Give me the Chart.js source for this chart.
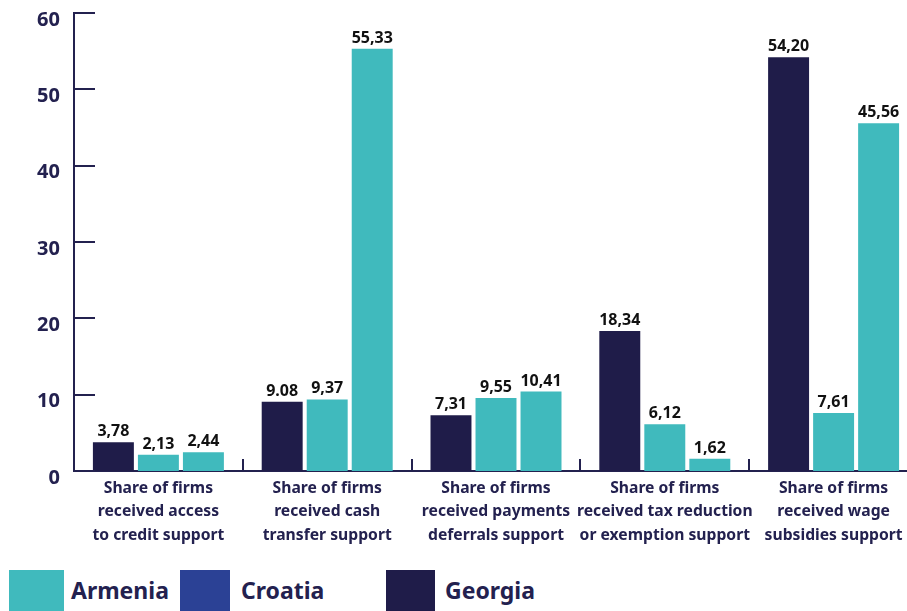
<!DOCTYPE html>
<html lang="en">
<head>
<meta charset="utf-8">
<title>Support received by firms</title>
<script src="https://cdn.jsdelivr.net/npm/chart.js@4.4.1/dist/chart.umd.min.js"></script>
<style>
    html, body { margin: 0; padding: 0; background: #fff; }
    body { width: 907px; height: 611px; overflow: hidden; position: relative; font-family: "Noto Sans", sans-serif; }
    /* O canvas é um pouco mais largo que a janela: a última categoria fica cortada na borda */
    .grafico { position: absolute; left: 0; top: 0; width: 918px; height: 560px; }
    .legenda { position: absolute; left: 0; top: 570px; width: 907px; height: 60px; }
    .legenda-item { position: absolute; top: 0; height: 45px; }
    .legenda-caixa { position: absolute; left: 0; top: 0; height: 45px; }
    .legenda-texto { position: absolute; top: 4px; font-weight: 700; font-size: 23px; color: #23214f; white-space: nowrap; }
</style>
</head>
<body>
<div class="grafico"><canvas id="grafico-apoio-empresas"></canvas></div>
<div class="legenda" id="legenda-paises"></div>

<script>
// Categorias do eixo X (uma linha por item do array)
const categorias = [
    ["Share of firms", "received access", "to credit support"],
    ["Share of firms", "received cash", "transfer support"],
    ["Share of firms", "received payments", "deferrals support"],
    ["Share of firms", "received tax reduction", "or exemption support"],
    ["Share of firms", "received wage", "subsidies support"]
];

// Valores por país, como aparecem nos rótulos das barras
const rotulosGeorgia = ["3,78", "9.08", "7,31", "18,34", "54,20"];
const rotulosArmenia = ["2,13", "9,37", "9,55", "6,12", "7,61"];
const rotulosCroatia = ["2,44", "55,33", "10,41", "1,62", "45,56"];

// Eixo Y
const ticksY = [0, 10, 20, 30, 40, 50, 60];

const COR_NAVY = "#1f1c49";
const COR_TEAL = "#40babd";
const COR_AZUL = "#2b4195";
const COR_TEXTO = "#23214f";

const paraNumero = (s) => parseFloat(s.replace(",", "."));

// Legenda em HTML (ordem e cores próprias, independente da ordem das séries)
const legendaItens = [
    { nome: "Armenia", cor: COR_TEAL, x: 9, caixa: 55, texto: 62 },
    { nome: "Croatia", cor: COR_AZUL, x: 180, caixa: 50, texto: 61 },
    { nome: "Georgia", cor: COR_NAVY, x: 386, caixa: 49, texto: 59 }
];

function montarLegenda() {
    const alvo = document.getElementById("legenda-paises");
    legendaItens.forEach((item) => {
        const el = document.createElement("div");
        el.className = "legenda-item";
        el.style.left = item.x + "px";
        el.innerHTML =
            '<span class="legenda-caixa" style="width:' + item.caixa + "px;background:" + item.cor + '"></span>' +
            '<span class="legenda-texto" style="left:' + item.texto + 'px">' + item.nome + "</span>";
        alvo.appendChild(el);
    });
}

// Marcas curtas para dentro da área do gráfico + rótulos de valor sobre as barras
const marcasERotulos = {
    id: "marcasERotulos",
    afterDraw(chart) {
        const { ctx, chartArea, scales } = chart;
        const x = scales.x;
        const y = scales.y;
        ctx.save();
        ctx.strokeStyle = COR_TEXTO;
        ctx.lineWidth = 2;
        ctx.beginPath();
        y.ticks.forEach((t) => {
            const py = Math.round(y.getPixelForValue(t.value));
            ctx.moveTo(chartArea.left, py);
            ctx.lineTo(chartArea.left + 21, py);
        });
        for (let i = 1; i < categorias.length; i++) {
            const px = Math.round((x.getPixelForValue(i - 1) + x.getPixelForValue(i)) / 2);
            ctx.moveTo(px, chartArea.bottom - 12);
            ctx.lineTo(px, chartArea.bottom);
        }
        ctx.stroke();

        ctx.fillStyle = "#111111";
        ctx.font = "700 16px 'Noto Sans'";
        ctx.textAlign = "center";
        ctx.textBaseline = "alphabetic";
        chart.data.datasets.forEach((ds, di) => {
            chart.getDatasetMeta(di).data.forEach((bar, i) => {
                ctx.fillText(ds.rotulos[i], bar.x, bar.y - 6);
            });
        });
        ctx.restore();
    }
};

function initGraficoApoio() {
    const canvas = document.getElementById("grafico-apoio-empresas");
    if (typeof Chart === "undefined") {
        console.error("Chart.js não foi carregado.");
        return;
    }

    new Chart(canvas.getContext("2d"), {
        type: "bar",
        data: {
            labels: categorias,
            datasets: [
                { label: "Georgia", data: rotulosGeorgia.map(paraNumero), rotulos: rotulosGeorgia, backgroundColor: COR_NAVY },
                { label: "Armenia", data: rotulosArmenia.map(paraNumero), rotulos: rotulosArmenia, backgroundColor: COR_TEAL },
                { label: "Croatia", data: rotulosCroatia.map(paraNumero), rotulos: rotulosCroatia, backgroundColor: COR_TEAL }
            ]
        },
        options: {
            responsive: true,
            maintainAspectRatio: false,
            animation: false,
            categoryPercentage: 0.8,
            barPercentage: 0.91,
            layout: { padding: { top: 13, left: 0, right: 0, bottom: 0 } },
            scales: {
                x: {
                    grid: { display: false },
                    border: { display: true, color: COR_TEXTO, width: 2 },
                    afterFit: (scale) => { scale.height = 89; },
                    ticks: {
                        color: COR_TEXTO,
                        font: { family: "Noto Sans", size: 15.7, weight: "700", lineHeight: 1.48 },
                        padding: -2,
                        autoSkip: false,
                        maxRotation: 0
                    }
                },
                y: {
                    min: 0,
                    max: 60,
                    afterBuildTicks: (scale) => { scale.ticks = ticksY.map((v) => ({ value: v })); },
                    afterFit: (scale) => {
                        scale.width = 74;
                        // o "60" pode ultrapassar o topo da área; a folga vem do layout
                        scale.paddingTop = 0;
                        scale.paddingBottom = 0;
                    },
                    grid: { display: false },
                    border: { display: true, color: COR_TEXTO, width: 2 },
                    ticks: {
                        color: COR_TEXTO,
                        font: { family: "Noto Sans", size: 20, weight: "700" },
                        padding: 6,
                        labelOffset: 7 // números ficam logo abaixo da marca
                    }
                }
            },
            plugins: {
                legend: { display: false },
                tooltip: { enabled: false }
            }
        },
        plugins: [marcasERotulos]
    });
}

montarLegenda();
initGraficoApoio();
</script>
</body>
</html>
